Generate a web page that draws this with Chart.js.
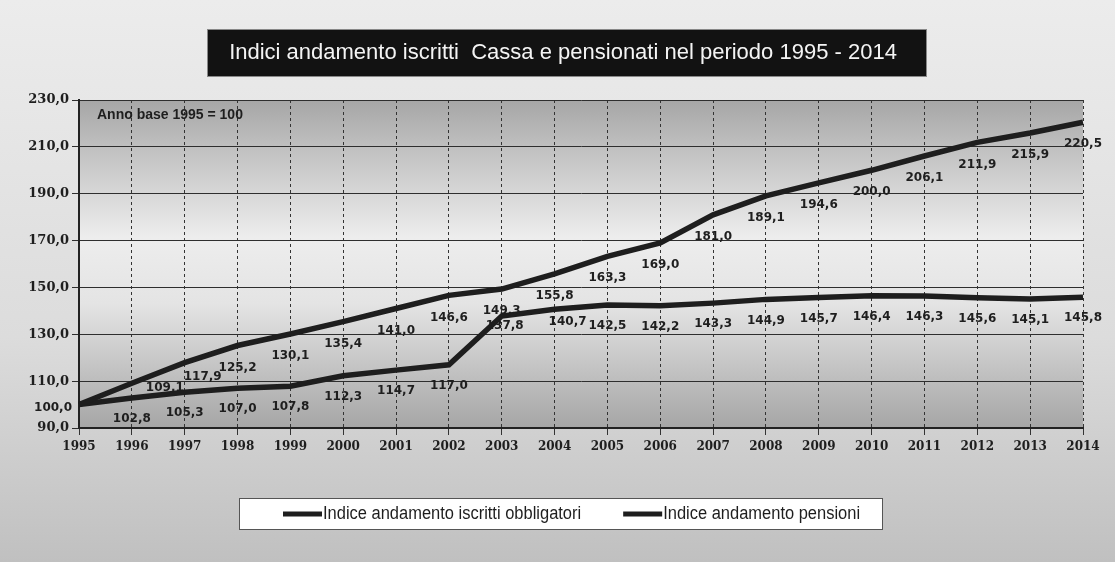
<!DOCTYPE html>
<html>
<head>
<meta charset="utf-8">
<script src="https://cdn.jsdelivr.net/npm/chart.js@4.4.1/dist/chart.umd.min.js"></script>
<style>
html, body { margin: 0; padding: 0; background: #e4e4e4; }
#wrap { width: 1115px; height: 562px; }
</style>
</head>
<body>
<div id="wrap"><canvas id="chart"></canvas></div>
<script>
var years = ['1995','1996','1997','1998','1999','2000','2001','2002','2003','2004',
             '2005','2006','2007','2008','2009','2010','2011','2012','2013','2014'];
var iscritti = [100.0, 109.1, 117.9, 125.2, 130.1, 135.4, 141.0, 146.6, 149.3, 155.8,
                163.3, 169.0, 181.0, 189.1, 194.6, 200.0, 206.1, 211.9, 215.9, 220.5];
var pensioni = [100.0, 102.8, 105.3, 107.0, 107.8, 112.3, 114.7, 117.0, 137.8, 140.7,
                142.5, 142.2, 143.3, 144.9, 145.7, 146.4, 146.3, 145.6, 145.1, 145.8];
var yTicks = [90, 110, 130, 150, 170, 190, 210, 230];
var seriesNames = ['Indice andamento iscritti obbligatori', 'Indice andamento pensioni'];
var titleText = 'Indici andamento iscritti  Cassa e pensionati nel periodo 1995 - 2014';
var baseNote = 'Anno base 1995 = 100';

var ink = '#1e1e1e';
function fmt(v) { return v.toFixed(1).replace('.', ','); }

// background of the page and of the plot area
var backdrop = {
  id: 'backdrop',
  beforeDraw: function (chart) {
    var ctx = chart.ctx, a = chart.chartArea;
    ctx.save();
    var g = ctx.createLinearGradient(0, 0, 0, chart.height);
    g.addColorStop(0, '#ececec');
    g.addColorStop(0.6, '#dcdcdc');
    g.addColorStop(1, '#c0c0c0');
    ctx.fillStyle = g;
    ctx.fillRect(0, 0, chart.width, chart.height);
    var p = ctx.createLinearGradient(0, a.top, 0, a.bottom);
    p.addColorStop(0, '#a6a6a6');
    p.addColorStop(0.18, '#c6c6c6');
    p.addColorStop(0.42, '#ededed');
    p.addColorStop(0.62, '#e4e4e4');
    p.addColorStop(0.85, '#bebebe');
    p.addColorStop(1, '#a6a6a6');
    ctx.fillStyle = p;
    ctx.fillRect(a.left, a.top, a.right - a.left, a.bottom - a.top);
    ctx.restore();
  }
};

// value labels under each point
var valueLabels = {
  id: 'valueLabels',
  afterDatasetsDraw: function (chart) {
    var ctx = chart.ctx;
    var offsets = [22, 21];
    var nudge = [{1: [33, -17], 2: [18, -8]}, {8: [3, -11], 9: [13, -8]}];
    ctx.save();
    ctx.font = 'bold 12px "DejaVu Sans", Verdana, sans-serif';
    ctx.fillStyle = ink;
    ctx.textAlign = 'center';
    ctx.textBaseline = 'middle';
    chart.data.datasets.forEach(function (ds, i) {
      var pts = chart.getDatasetMeta(i).data;
      ds.data.forEach(function (v, j) {
        var p = pts[j];
        if (j === 0) {
          if (i === 0) {
            ctx.textAlign = 'right';
            ctx.fillText(fmt(v), p.x - 7, p.y + 3);
            ctx.textAlign = 'center';
          }
          return;
        }
        var n = nudge[i][j] || [0, 0];
        ctx.fillText(fmt(v), p.x + n[0], p.y + offsets[i] + n[1]);
      });
    });
    ctx.restore();
  }
};

// title box, note and legend box
var overlay = {
  id: 'overlay',
  afterDraw: function (chart) {
    var ctx = chart.ctx, a = chart.chartArea;
    ctx.save();
    ctx.fillStyle = '#121212';
    ctx.fillRect(207, 29, 720, 48);
    ctx.strokeStyle = '#888';
    ctx.lineWidth = 1;
    ctx.strokeRect(207.5, 29.5, 719, 47);
    ctx.fillStyle = '#f4f4f4';
    ctx.font = '22px "Liberation Sans", Arial, sans-serif';
    ctx.textAlign = 'center';
    ctx.textBaseline = 'middle';
    ctx.fillText(titleText, 563, 53);

    ctx.fillStyle = ink;
    ctx.font = 'bold 14px "Liberation Sans", Arial, sans-serif';
    ctx.textAlign = 'left';
    ctx.fillText(baseNote, a.left + 18, a.top + 15, 146);

    ctx.fillStyle = '#ffffff';
    ctx.fillRect(239, 498, 644, 32);
    ctx.strokeStyle = '#555';
    ctx.strokeRect(239.5, 498.5, 643, 31);
    ctx.font = '18px "Liberation Sans", Arial, sans-serif';
    ctx.textBaseline = 'middle';
    var squeeze = 0.915;
    var lx = 283, ly = 514;
    chart.data.datasets.forEach(function (ds) {
      ctx.strokeStyle = ds.borderColor;
      ctx.lineWidth = 5;
      ctx.beginPath();
      ctx.moveTo(lx, ly);
      ctx.lineTo(lx + 39, ly);
      ctx.stroke();
      ctx.fillStyle = ink;
      var w = ctx.measureText(ds.label).width * squeeze;
      ctx.fillText(ds.label, lx + 40, ly, w);
      lx += 40 + w + 42;
    });
    ctx.restore();
  }
};

var ctx = document.getElementById('chart').getContext('2d');
var chart = new Chart(ctx, {
  type: 'line',
  data: {
    labels: years,
    datasets: [{
      label: seriesNames[0],
      data: iscritti,
      borderColor: ink,
      backgroundColor: ink,
      borderWidth: 5.5,
      pointRadius: 0,
      tension: 0
    }, {
      label: seriesNames[1],
      data: pensioni,
      borderColor: ink,
      backgroundColor: ink,
      borderWidth: 5.5,
      pointRadius: 0,
      tension: 0
    }]
  },
  options: {
    responsive: true,
    maintainAspectRatio: false,
    animation: false,
    devicePixelRatio: 1,
    layout: { padding: { left: 0, right: 32, top: 100, bottom: 104 } },
    plugins: {
      legend: { display: false },
      title: { display: false },
      tooltip: { enabled: false }
    },
    scales: {
      x: {
        offset: false,
        afterFit: function (s) { s.height = 30; },
        grid: { color: '#333', lineWidth: 1, tickLength: 7, tickColor: '#333' },
        border: { display: true, color: '#222', width: 2, dash: [3, 3] },
        ticks: {
          color: ink,
          padding: 5,
          maxRotation: 0,
          autoSkip: false,
          font: { family: '"DejaVu Serif", "Liberation Serif", serif', weight: 'bold', size: 12 }
        }
      },
      y: {
        min: 90,
        max: 230,
        afterFit: function (s) { s.width = 79; },
        afterBuildTicks: function (s) { s.ticks = yTicks.map(function (v) { return { value: v }; }); },
        grid: { color: '#2e2e2e', lineWidth: 1, tickLength: 7 },
        border: { display: true, color: '#222', width: 2 },
        ticks: {
          color: ink,
          padding: 3,
          callback: function (v) { return fmt(v); },
          font: { family: '"DejaVu Serif", "Liberation Serif", serif', weight: 'bold', size: 13 }
        }
      }
    }
  },
  plugins: [backdrop, valueLabels, overlay]
});
</script>
</body>
</html>
